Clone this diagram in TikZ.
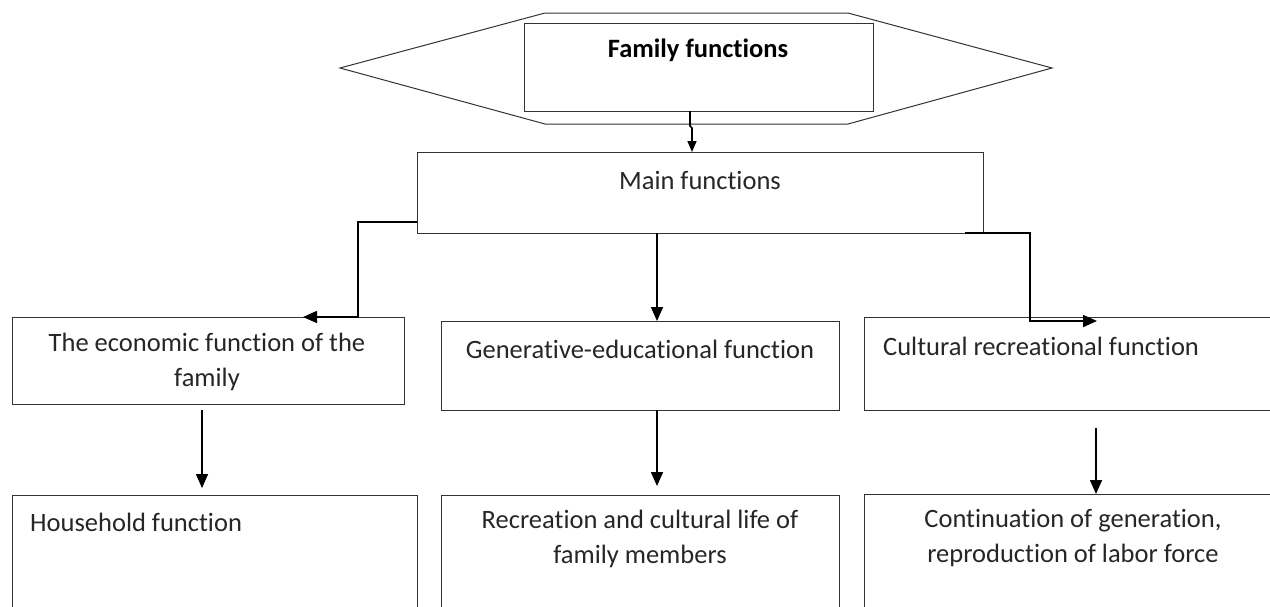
\documentclass[tikz,border=0pt]{standalone}
\usepackage{fontspec}
\setmainfont[Ligatures=NoCommon]{Carlito}
\usetikzlibrary{arrows.meta}
\begin{document}
\begin{tikzpicture}[x=1pt,y=-1pt,
  box/.style={draw=black!80,line width=1pt,inner sep=0pt},
  txt/.style={font=\fontsize{26.5}{35}\selectfont,inner sep=0pt,align=center,text=black!85},
  conn/.style={draw=black,line width=1.6pt},
  arr/.style={conn,-{Triangle[length=14pt,width=12pt]}}]
\useasboundingbox (0,0) rectangle (1270,606);
\clip (0,0) rectangle (1270,606);
% hexagon
\draw[black!80,line width=1pt] (340,68) -- (545,13) -- (848,13) -- (1052,68) -- (848,124) -- (545,124) -- cycle;
\node[box,minimum width=349pt,minimum height=88pt] (fam) at (698.5,67) {};
\node[txt,font=\fontsize{26.5}{35}\selectfont\bfseries,text=black] (famt) at (698,50) {Family functions};
\node[box,minimum width=566pt,minimum height=81pt] (main) at (700,192.5) {};
\node[txt] (maint) at (700,180) {Main functions};
% level 2
\node[box,minimum width=392pt,minimum height=87pt] (eco) at (208,360.5) {};
\node[txt] (ecot) at (207,362) {The economic function of the\\family};
\node[box,minimum width=398pt,minimum height=89pt] (gen) at (640,365.5) {};
\node[txt] (gent) at (640,349) {Generative-educational function};
\node[box,minimum width=406pt,minimum height=93pt] (cul) at (1067,363.5) {};
\node[txt,anchor=west] (cult) at (883,346) {Cultural recreational function};
% level 3
\node[box,minimum width=405pt,minimum height=130pt] (hou) at (214.5,560) {};
\node[txt,anchor=west] (hout) at (30,522) {Household function};
\node[box,minimum width=398pt,minimum height=130pt] (rec) at (640,560) {};
\node[txt] (rect) at (640,539) {Recreation and cultural life of\\family members};
\node[box,minimum width=406pt,minimum height=130pt] (con) at (1067,559) {};
\node[txt] (cont) at (1073,538) {Continuation of generation,\\reproduction of labor force};
% connectors
\coordinate (c1) at (690,111);
\coordinate (c2) at (692,152);
\draw[conn,-{Triangle[length=11pt,width=9pt]}] (c1) -- (690,126) -- (692,128) -- (c2);
\coordinate (l0) at (417,222);
\coordinate (l1) at (303,317);
\draw[arr] (l0) -- (358,222) -- (358,317) -- (l1);
\coordinate (m0) at (657,233);
\coordinate (m1) at (657,321);
\draw[arr] (m0) -- (m1);
\coordinate (r0) at (965,233);
\coordinate (r1) at (1097,321);
\draw[arr] (r0) -- (1030,233) -- (1030,321) -- (r1);
\coordinate (e0) at (202,410);
\coordinate (e1) at (202,488);
\draw[arr] (e0) -- (e1);
\coordinate (g0) at (657,410);
\coordinate (g1) at (657,486);
\draw[arr] (g0) -- (g1);
\coordinate (k0) at (1096,428);
\coordinate (k1) at (1096,494);
\draw[arr] (k0) -- (k1);
\end{tikzpicture}
\end{document}
